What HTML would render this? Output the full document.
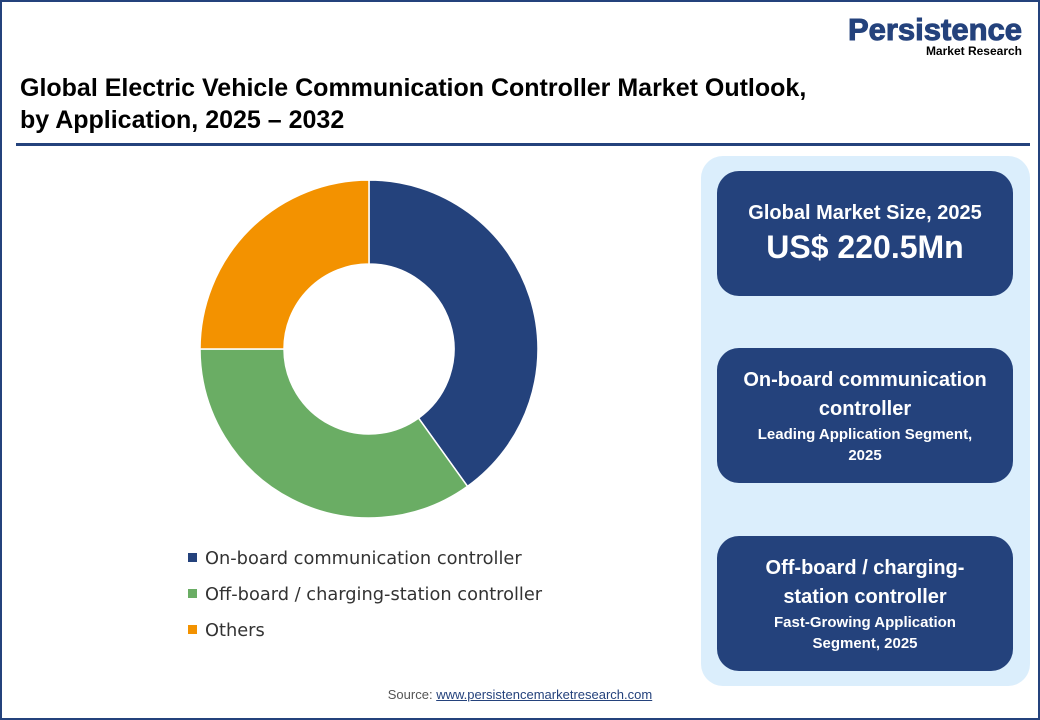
<!DOCTYPE html>
<html><head><meta charset="utf-8"><style>
body{margin:0;width:1040px;height:720px;overflow:hidden;background:#fff;font-family:"Liberation Sans","DejaVu Sans",sans-serif;}
#frame{position:absolute;left:0;top:0;width:1036px;height:716px;border:2px solid #24427c;}
.t{position:absolute;left:20px;top:72px;font-size:25px;font-weight:bold;color:#000;line-height:32px;}
.rule{position:absolute;left:16px;top:143px;width:1014px;height:3px;background:#24427c;}
.panel{position:absolute;left:701px;top:156px;width:329px;height:530px;background:#dbeefc;border-radius:22px;}
.box{position:absolute;left:717px;width:296px;background:#24427c;border-radius:22px;color:#fff;text-align:center;display:flex;flex-direction:column;justify-content:center;font-family:"Liberation Sans","DejaVu Sans",sans-serif;}
.leg{position:absolute;left:188px;font-size:17.8px;color:#333;font-family:"DejaVu Sans","Liberation Sans",sans-serif;}
.leg span{display:inline-block;width:9px;height:9px;margin-right:8px;vertical-align:2px;}
</style></head><body>
<div id="frame"></div>
<div style="position:absolute;left:812px;top:14px;text-align:right;width:210px;">
<div style="font-size:31px;font-weight:900;color:#24427c;line-height:32px;-webkit-text-stroke:1px #24427c;">Persistence</div>
<div style="font-size:12px;font-weight:bold;color:#000;margin-top:-2px;">Market Research</div></div>
<div class="t">Global Electric Vehicle Communication Controller Market Outlook,<br>by Application, 2025 – 2032</div>
<div class="rule"></div>
<svg id="chart" width="1040" height="720" style="position:absolute;left:0;top:0"></svg>
<div class="leg" style="top:548px"><span style="background:#24427c"></span>On-board communication controller</div>
<div class="leg" style="top:584px"><span style="background:#6aad64"></span>Off-board / charging-station controller</div>
<div class="leg" style="top:620px"><span style="background:#f39200"></span>Others</div>
<div class="panel"></div>
<div class="box" style="top:171px;height:125px"><div style="font-size:20px;font-weight:bold">Global Market Size, 2025</div><div style="font-size:32px;font-weight:bold;margin-top:4px">US$ 220.5Mn</div></div>
<div class="box" style="top:348px;height:135px"><div style="font-size:20px;font-weight:bold;line-height:29px">On-board communication<br>controller</div><div style="font-size:15px;font-weight:bold;line-height:21px">Leading Application Segment,<br>2025</div></div>
<div class="box" style="top:536px;height:135px"><div style="font-size:20px;font-weight:bold;line-height:29px">Off-board / charging-<br>station controller</div><div style="font-size:15px;font-weight:bold;line-height:21px">Fast-Growing Application<br>Segment, 2025</div></div>
<div style="position:absolute;left:0;width:1040px;top:687px;text-align:center;font-size:13px;color:#555;">Source: <span style="color:#24427c;text-decoration:underline">www.persistencemarketresearch.com</span></div>
<script>
const categories=["On-board communication controller","Off-board / charging-station controller","Others"];
const values=[40.1,34.9,25];
const colors=["#24427c","#6aad64","#f39200"];
const svg=document.getElementById('chart');
const cx=369,cy=349,R=169,r=85;
const total=values.reduce((a,b)=>a+b,0);
let a0=0;
function pt(rad,a){return [cx+rad*Math.sin(a),cy-rad*Math.cos(a)];}
values.forEach((v,i)=>{
const a1=a0+v/total*2*Math.PI;const lg=(a1-a0)>Math.PI?1:0;
const p1=pt(R,a0),p2=pt(R,a1),p3=pt(r,a1),p4=pt(r,a0);
const p=document.createElementNS('http://www.w3.org/2000/svg','path');
p.setAttribute('d',`M${p1} A${R},${R} 0 ${lg} 1 ${p2} L${p3} A${r},${r} 0 ${lg} 0 ${p4}Z`);
p.setAttribute('fill',colors[i]);p.setAttribute('stroke','#fff');p.setAttribute('stroke-width','1.5');


svg.appendChild(p);a0=a1;});
</script>
</body></html>
